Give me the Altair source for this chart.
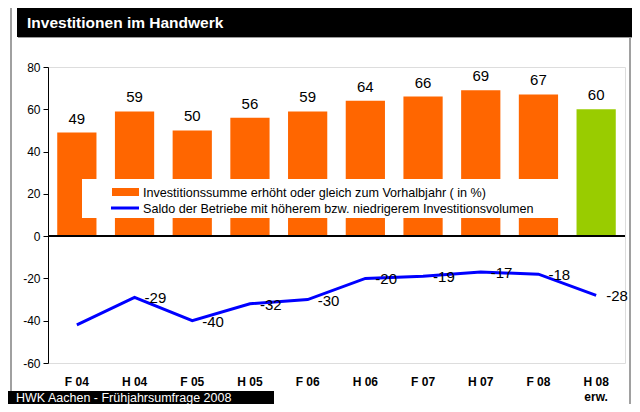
import altair as alt
import pandas as pd

periods = ["F 04", "H 04", "F 05", "H 05", "F 06", "H 06", "F 07", "H 07", "F 08", "H 08"]
invest = [49, 59, 50, 56, 59, 64, 66, 69, 67, 60]
saldo = [-42, -29, -40, -32, -30, -20, -19, -17, -18, -28]
saldo_shown = [False, True, True, True, True, True, True, True, True, True]
kind = ["ist", "ist", "ist", "ist", "ist", "ist", "ist", "ist", "ist", "erw"]
y_ticks = [-60, -40, -20, 0, 20, 40, 60, 80]

title_text = "Investitionen im Handwerk"
footer_text = "HWK Aachen - Frühjahrsumfrage 2008"
legend_bar = "Investitionssumme erhöht oder gleich zum Vorhalbjahr ( in %)"
legend_line = "Saldo der Betriebe mit höherem bzw. niedrigerem Investitionsvolumen"

ORANGE = "#FF6600"
GREEN = "#99CC00"
BLUE = "#0000FF"
FONT = "Liberation Sans"

df = pd.DataFrame({"period": periods, "invest": invest, "saldo": saldo,
                   "saldo_txt": [str(v) for v in saldo],
                   "shown": saldo_shown, "kind": kind})

x_enc = alt.X(
    "period:N", sort=periods,
    scale=alt.Scale(paddingInner=0.32, paddingOuter=0.16),
    axis=alt.Axis(title=None, labelAngle=0, domain=False, ticks=False, tickSize=0,
                  labelFontWeight="bold", labelFontSize=12, labelColor="black",
                  labelPadding=13, labelLineHeight=15, labelBaseline="top",
                  labelExpr="datum.value == 'H 08' ? ['H 08', 'erw.'] : datum.value"),
)
y_scale = alt.Scale(domain=[-60, 80], nice=False)
y_axis = alt.Axis(title=None, values=y_ticks, grid=False, domainColor="black",
                  tickColor="black", tickSize=5, labelFontSize=12,
                  labelColor="black", labelPadding=3,
                  labelExpr="toString(datum.value)")

base = alt.Chart(df)

bars = base.mark_bar().encode(
    x=x_enc,
    y=alt.Y("invest:Q", scale=y_scale, axis=y_axis),
    color=alt.Color("kind:N", scale=alt.Scale(domain=["ist", "erw"], range=[ORANGE, GREEN]),
                    legend=None),
)

bar_labels = base.mark_text(fontSize=15, color="black", baseline="alphabetic", dy=-9,
                            font=FONT).encode(
    x=x_enc,
    y=alt.Y("invest:Q", scale=y_scale, axis=y_axis),
    text="invest:Q",
)

one = alt.Data(values=[{"a": 1}])

legend_box = alt.Chart(one).mark_rect(color="white").encode(
    x=alt.value(34), x2=alt.value(512), y=alt.value(112), y2=alt.value(151))
legend_swatch = alt.Chart(one).mark_rect(color=ORANGE).encode(
    x=alt.value(64), x2=alt.value(91), y=alt.value(121), y2=alt.value(129))
legend_lineswatch = alt.Chart(one).mark_rule(color=BLUE, strokeWidth=3).encode(
    x=alt.value(63), x2=alt.value(91), y=alt.value(141))
legend_t1 = alt.Chart(one).mark_text(align="left", baseline="middle", fontSize=12.6,
                                     font=FONT, color="black", text=legend_bar).encode(
    x=alt.value(95), y=alt.value(126))
legend_t2 = alt.Chart(one).mark_text(align="left", baseline="middle", fontSize=12.6,
                                     font=FONT, color="black", text=legend_line).encode(
    x=alt.value(95), y=alt.value(142))

zero = base.mark_rule(color="black", strokeWidth=1).encode(
    y=alt.datum(0, type="quantitative", scale=y_scale, axis=y_axis))

line = base.mark_line(color=BLUE, strokeWidth=3).encode(
    x=x_enc,
    y=alt.Y("saldo:Q", scale=y_scale, axis=y_axis),
)

line_labels = base.transform_filter("datum.shown").mark_text(
    fontSize=15, color="black", align="left", baseline="middle", dx=10, dy=1, font=FONT
).encode(
    x=x_enc,
    y=alt.Y("saldo:Q", scale=y_scale, axis=y_axis),
    text="saldo_txt:N",
)

# decorations (outside plot area)
title_shadow = alt.Chart(one).mark_rect(color="#9a9a9a").encode(
    x=alt.value(-30), x2=alt.value(585), y=alt.value(-59), y2=alt.value(-29))
title_bar = alt.Chart(one).mark_rect(color="black").encode(
    x=alt.value(-31), x2=alt.value(584), y=alt.value(-60), y2=alt.value(-30))
title_t = alt.Chart(one).mark_text(align="left", baseline="middle", fontSize=15.5,
                                   fontWeight="bold", font=FONT, color="white",
                                   text=title_text).encode(
    x=alt.value(-21), y=alt.value(-44))
frame_left = alt.Chart(one).mark_rule(color="#808080", strokeWidth=1.5).encode(
    x=alt.value(-37), y=alt.value(-62), y2=alt.value(324))
frame_right = alt.Chart(one).mark_rule(color="#808080", strokeWidth=1.5).encode(
    x=alt.value(582), y=alt.value(-29), y2=alt.value(337))
footer_box = alt.Chart(one).mark_rect(color="black").encode(
    x=alt.value(-40), x2=alt.value(226), y=alt.value(324), y2=alt.value(337))
footer_t = alt.Chart(one).mark_text(align="left", baseline="middle", fontSize=12.5,
                                    font=FONT, color="white", text=footer_text).encode(
    x=alt.value(-32), y=alt.value(331))

chart = alt.layer(
    bars, legend_box, legend_swatch, legend_lineswatch, legend_t1, legend_t2,
    bar_labels, zero, line, line_labels,
    title_shadow, title_bar, title_t, frame_left, frame_right, footer_box, footer_t,
).properties(
    width=577, height=296,
    padding={"left": 40, "top": 59, "right": 7, "bottom": 41},
    autosize=alt.AutoSizeParams(type="none"),
    background="white",
).configure_view(strokeWidth=0).configure(font=FONT)

chart.save("out.html", embed_options={"renderer": "svg", "actions": False})
